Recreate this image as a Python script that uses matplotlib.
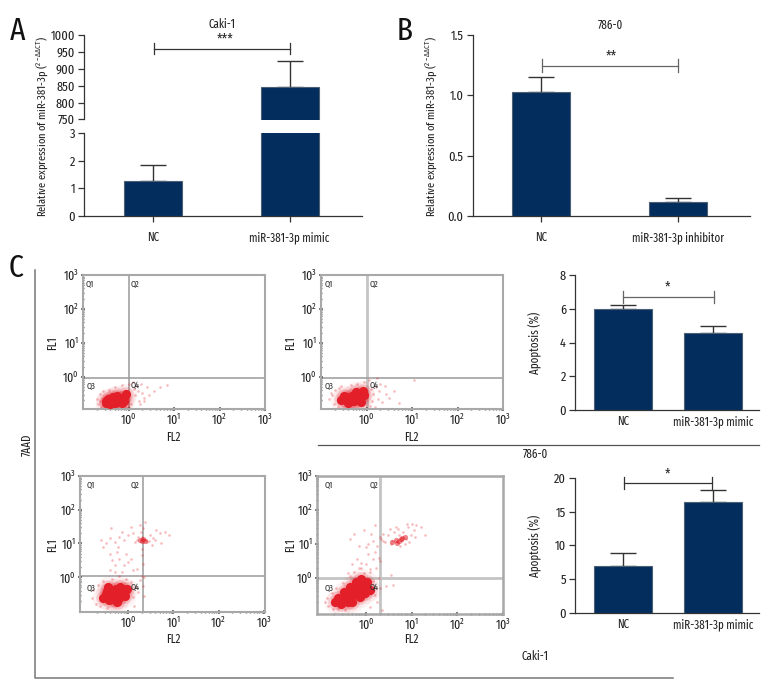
import matplotlib
matplotlib.use("Agg")
import matplotlib.pyplot as plt
import numpy as np

plt.rcParams['font.family'] = ['Fira Sans Extra Condensed', 'PT Sans Narrow', 'Roboto Condensed', 'Liberation Sans', 'DejaVu Sans']
plt.rcParams['mathtext.default'] = 'regular'
plt.rcParams['font.size'] = 9

W, H = 780, 696
NAVY = '#022d5c'
DARK = '#333333'
GRID = '#9a9a9a'
RED = '#e3202a'

# bar data
labels_a = ['NC', 'miR-381-3p mimic']
vals_a = [1.27, 845]
err_a = [0.58, 77]
labels_b = ['NC', 'miR-381-3p inhibitor']
vals_b = [1.03, 0.12]
err_b = [0.125, 0.03]
labels_c = ['NC', 'miR-381-3p mimic']
vals_c1 = [6.0, 4.55]
err_c1 = [0.22, 0.42]
vals_c2 = [7.0, 16.5]
err_c2 = [1.9, 1.7]

# flow cytometry events, as log10 values
core1_x = [-0.5, -0.45, -0.4, -0.35, -0.3, -0.3, -0.2, -0.15, -0.1, -0.1, -0.05, -0.4, -0.25, -0.2, -0.5, -0.35]
core1_y = [-0.76, -0.66, -0.74, -0.6, -0.7, -0.78, -0.64, -0.76, -0.6, -0.7, -0.52, -0.8, -0.58, -0.7, -0.7, -0.66]
halo1_x = [-0.7, -0.68, -0.62, -0.6, -0.55, -0.5, -0.42, -0.3, -0.15, 0.0, 0.1, 0.12, 0.15, 0.2, 0.22, 0.3, 0.33, 0.4, 0.45, 0.55, 0.7, 0.85, 0.05, 0.0, 0.25, 0.35, 0.18, 0.28, -0.05, -0.62]
halo1_y = [-0.65, -0.8, -0.5, -0.9, -0.42, -0.92, -0.38, -0.3, -0.24, -0.2, -0.15, -0.35, -0.55, -0.42, -0.7, -0.48, -0.62, -0.3, -0.55, -0.42, -0.3, -0.25, -0.8, -0.88, -0.8, -0.7, -0.28, -0.2, -0.88, -0.72]

core2_x = [-0.55, -0.5, -0.42, -0.4, -0.32, -0.28, -0.22, -0.15, -0.12, -0.08, -0.05, -0.45, -0.35, -0.25, -0.18, -0.3]
core2_y = [-0.68, -0.56, -0.66, -0.78, -0.56, -0.72, -0.46, -0.62, -0.74, -0.42, -0.54, -0.6, -0.7, -0.62, -0.52, -0.64]
halo2_x = [-0.82, -0.78, -0.72, -0.7, -0.62, -0.6, -0.5, -0.35, -0.2, -0.05, 0.05, 0.1, 0.15, 0.2, 0.25, 0.28, 0.35, 0.42, 0.5, 0.6, 0.72, 1.05, 0.08, 0.3, 0.18, -0.75, -0.55, 0.4, 0.12, 0.22]
halo2_y = [-0.65, -0.48, -0.8, -0.38, -0.88, -0.32, -0.92, -0.25, -0.2, -0.15, -0.1, -0.35, -0.5, -0.3, -0.65, -0.42, -0.75, -0.5, -0.62, -0.42, -0.78, -0.1, -0.85, -0.2, -0.9, -0.55, -0.28, -0.28, -0.7, -0.05]

core3_x = [-0.55, -0.5, -0.42, -0.38, -0.3, -0.28, -0.2, -0.18, -0.12, -0.08, -0.03, -0.45, -0.25, -0.35, -0.2, -0.4, -0.3, -0.12, -0.48]
core3_y = [-0.62, -0.5, -0.68, -0.4, -0.55, -0.36, -0.62, -0.28, -0.45, -0.55, -0.36, -0.3, -0.72, -0.48, -0.42, -0.58, -0.66, -0.36, -0.4]
halo3_x = [-0.8, -0.78, -0.72, -0.68, -0.62, -0.55, -0.48, -0.35, -0.2, -0.05, 0.05, 0.1, 0.18, 0.22, 0.25, 0.3, 0.33, 0.35, 0.12, -0.4, -0.3, -0.2, -0.15, -0.35, -0.25, -0.4, -0.1, 0.0, -0.55, -0.3, -0.22, -0.05, 0.1, 0.2, 0.3, 0.05, 0.32, 0.3, 0.34,
           -0.6, -0.5, -0.4, -0.3, -0.2, -0.1, 0.0, 0.1, 0.15, 0.2, 0.28, 0.32, 0.36, 0.42, 0.48, 0.55, 0.62, 0.7, 0.82, 0.9, 0.3, 0.35, 0.4, 0.25, 0.22, 0.45, 0.52, 0.36, 0.3, 0.05, -0.15, -0.38, 0.6, 0.72]
halo3_y = [-0.62, -0.38, -0.78, -0.22, -0.85, -0.12, -0.9, -0.05, 0.05, -0.05, -0.15, -0.6, -0.3, -0.45, -0.08, 0.05, -0.25, -0.55, -0.85, 0.2, 0.35, 0.55, 0.15, 0.5, 0.75, 0.7, 0.35, 0.45, 0.9, 0.15, 0.9, 0.7, 0.2, 0.25, 0.85, 0.55, 0.4, 0.65, 0.02,
           1.1, 1.0, 1.15, 1.05, 1.2, 1.1, 1.25, 1.3, 1.05, 1.1, 1.35, 1.45, 1.1, 1.05, 1.25, 1.15, 1.4, 1.3, 1.35, 1.25, 1.12, 1.14, 1.1, 1.55, 1.2, 1.08, 0.95, 1.65, 1.18, 1.5, 1.35, 1.45, 1.1, 1.0]
peak3_x = [0.26, 0.33, 0.38, 0.3]
peak3_y = [1.1, 1.13, 1.08, 1.06]

core4_x = [-0.68, -0.6, -0.55, -0.48, -0.42, -0.35, -0.3, -0.22, -0.18, -0.1, -0.05, 0.02, -0.3, -0.12, 0.08, -0.5, -0.38, -0.25, -0.15, -0.4, -0.02]
core4_y = [-0.72, -0.58, -0.76, -0.42, -0.62, -0.28, -0.52, -0.12, -0.42, -0.02, -0.3, -0.12, -0.72, -0.55, -0.35, -0.62, -0.45, -0.32, -0.22, -0.7, -0.45]
halo4_x = [-0.9, -0.85, -0.82, -0.75, -0.72, -0.65, -0.6, -0.5, -0.45, -0.35, -0.25, -0.15, 0.0, 0.1, 0.15, 0.2, 0.25, 0.3, 0.35, 0.1, 0.22, 0.3, -0.4, -0.2, -0.1, 0.05, -0.3, 0.0, 0.15, 0.2, 0.25, 0.28, -0.05, 0.1, -0.1, 0.45, 0.55, 0.6, 0.28,
           0.32, 0.38, 0.42, 0.48, 0.52, 0.58, 0.62, 0.68, 0.72, 0.78, 0.82, 0.88, 0.92, 0.98, 1.05, 1.1, 1.2, 0.75, 0.85, 0.95, 0.65, 1.0, 1.08, 0.55, 0.7, 0.9, 1.3, -0.15, -0.25, -0.35, 0.15, -0.05, 0.05, 0.12, 0.2, 0.3, 0.38]
halo4_y = [-0.72, -0.6, -0.82, -0.45, -0.9, -0.3, -0.92, -0.15, -0.95, 0.05, 0.18, 0.28, 0.4, 0.25, -0.1, -0.5, -0.72, -0.3, -0.95, -0.85, 0.3, 0.5, 0.15, 0.55, 0.45, 0.7, 0.4, 0.9, 0.55, 0.75, 0.95, 0.6, 0.15, 0.18, 0.28, -0.25, 0.1, -0.2, 0.0,
           1.15, 1.3, 1.05, 1.25, 1.45, 1.1, 1.35, 1.05, 1.25, 1.1, 1.35, 1.15, 1.5, 1.25, 1.4, 1.55, 1.5, 0.95, 1.0, 1.05, 1.5, 1.6, 1.2, 1.0, 1.45, 1.6, 1.25, 0.95, 1.3, 1.15, 1.1, 1.4, 1.0, 1.3, 1.55, 1.2, 1.1]
peak4_x = [0.58, 0.65, 0.72, 0.78, 0.85, 0.68, 0.76]
peak4_y = [1.05, 1.12, 1.1, 1.17, 1.22, 1.04, 1.14]

LABEL_SIZE = 8.6
YLABEL_SIZE = 8.2
TICK_SIZE = 9.6
STAR_SIZE = 10.5


def px_axes(fig, left, top, right, bottom):
    ax = fig.add_axes([left / W, 1 - bottom / H, (right - left) / W, (bottom - top) / H])
    ax.patch.set_alpha(0)
    return ax


def px_text(fig, x, y, s, **kw):
    kw.setdefault('ha', 'center')
    kw.setdefault('va', 'center')
    kw.setdefault('color', '#222222')
    return fig.text(x / W, 1 - y / H, s, **kw)


def bar_axes(ax, xlim, width, vals, errs):
    ax.bar([0, 1], vals, width=width, color=NAVY, edgecolor='#4d5f73', linewidth=0.8, zorder=3)
    ax.errorbar([0, 1], vals, yerr=[[0, 0], errs], fmt='none', ecolor=DARK,
                elinewidth=1, capsize=9.7, capthick=1, zorder=2)
    ax.set_xlim(*xlim)
    for side in ['top', 'right']:
        ax.spines[side].set_visible(False)
    for side in ['left', 'bottom']:
        ax.spines[side].set_linewidth(0.9)
        ax.spines[side].set_color(DARK)
    ax.tick_params(length=4, width=0.9, color=DARK, labelsize=TICK_SIZE, labelcolor='#222222', pad=2.5)


def bracket(ax, x0, x1, y, half, color=DARK, lw=0.9):
    ax.plot([x0, x1], [y, y], color=color, lw=lw, clip_on=False, zorder=5)
    for x in (x0, x1):
        ax.plot([x, x], [y - half, y + half], color=color, lw=lw, clip_on=False, zorder=5)


def dot_plot(fig, box, gate, xlim, ylim, qpos, core, halo, peak=None, frame=1.5, vgate=(GRID, 1.1), hgate=(GRID, 1.1)):
    ax = px_axes(fig, *box)
    ax.set_xlim(*xlim)
    ax.set_ylim(*ylim)
    ax.scatter(core[0], core[1], s=240, color=RED, alpha=0.05, linewidths=0, zorder=2)
    ax.scatter(core[0], core[1], s=110, color=RED, alpha=0.14, linewidths=0, zorder=2)
    ax.scatter(core[0], core[1], s=44, color=RED, alpha=1, linewidths=0, zorder=3)
    ax.scatter(halo[0], halo[1], s=3.5, color=RED, alpha=0.3, linewidths=0, zorder=2)
    if peak is not None:
        ax.scatter(peak[0], peak[1], s=14, color=RED, alpha=0.55, linewidths=0, zorder=3)
    ax.axvline(gate[0], color=vgate[0], lw=vgate[1], zorder=1)
    ax.axhline(gate[1], color=hgate[0], lw=hgate[1], zorder=1)
    for s in ax.spines.values():
        s.set_color('#a8a8a8')
        s.set_linewidth(frame)
    decades = [0, 1, 2, 3]
    ax.set_xticks(decades)
    ax.set_yticks(decades)
    ax.set_xticklabels(['$10^{%d}$' % d for d in decades])
    ax.set_yticklabels(['$10^{%d}$' % d for d in decades])
    minor = np.log10(np.arange(2, 10))
    mx = [d + m for d in range(-1, 3) for m in minor]
    ax.set_xticks([v for v in mx if xlim[0] < v < xlim[1]], minor=True)
    ax.set_yticks([v for v in mx if ylim[0] < v < ylim[1]], minor=True)
    ax.tick_params(which='major', length=2.5, width=1.1, color='#555555', labelsize=9.2, labelcolor='#222222', pad=1.5, direction='inout')
    ax.tick_params(which='minor', length=2, width=1, color='#666666', direction='inout')
    for (x, y), q in zip(qpos, ['Q1', 'Q2', 'Q3', 'Q4']):
        px_text(fig, x, y, q, fontsize=6.5, color='#333333')
    return ax


fig = plt.figure(figsize=(W / 100, H / 100), dpi=100)
ylab = r'Relative expression of miR-381-3p ($^{2-\Delta\Delta CT}$)'

# panel A, broken axis
a_hi = px_axes(fig, 84, 35, 362, 119.5)
a_lo = px_axes(fig, 84, 133, 362, 216)
xlim_ab = (-0.505, 1.53)
for ax in (a_hi, a_lo):
    bar_axes(ax, xlim_ab, 0.425, vals_a, err_a)
a_hi.set_ylim(750, 1000)
a_hi.set_yticks([750, 800, 850, 900, 950, 1000])
a_hi.spines['bottom'].set_visible(False)
a_hi.set_xticks([])
a_lo.set_ylim(0, 3)
a_lo.set_yticks([0, 1, 2, 3])
a_lo.set_xticks([0, 1])
a_lo.set_xticklabels(labels_a)
a_lo.tick_params(axis='x', pad=7, labelsize=LABEL_SIZE)
a_lo.set_ylabel(ylab, fontsize=YLABEL_SIZE, color='#222222')
a_lo.yaxis.set_label_coords(50 / W, 1 - 126 / H, transform=fig.transFigure)
bracket(a_hi, 0.01, 1.005, 960, 17)
px_text(fig, 225, 39, '***', fontsize=STAR_SIZE)
px_text(fig, 222, 24, 'Caki-1', fontsize=LABEL_SIZE)
px_text(fig, 18, 31, 'A', fontsize=23, color='#111111')

# panel B
b_ax = px_axes(fig, 472.7, 35, 750, 216)
bar_axes(b_ax, (-0.5, 1.525), 0.423, vals_b, err_b)
b_ax.set_ylim(0, 1.5)
b_ax.set_yticks([0, 0.5, 1.0, 1.5])
b_ax.set_yticklabels(['0.0', '0.5', '1.0', '1.5'])
b_ax.set_xticks([0, 1])
b_ax.set_xticklabels(labels_b)
b_ax.tick_params(axis='x', pad=7, labelsize=LABEL_SIZE)
b_ax.set_ylabel(ylab, fontsize=YLABEL_SIZE, color='#222222')
b_ax.yaxis.set_label_coords(439 / W, 1 - 126 / H, transform=fig.transFigure)
bracket(b_ax, 0.005, 1.0, 1.245, 0.052, color='#666666')
px_text(fig, 611, 56, '**', fontsize=STAR_SIZE)
px_text(fig, 610, 25, '786-0', fontsize=LABEL_SIZE)
px_text(fig, 405, 31, 'B', fontsize=23, color='#111111')

# panel C, dot plots
light = ('#c4c4c4', 2.0)
dot_plot(fig, (83, 275, 265, 409), (0.0, -0.05), (-1, 3), (-0.95, 3),
         [(90, 283), (135, 283), (91, 385), (135, 385)], (core1_x, core1_y), (halo1_x, halo1_y))
dot_plot(fig, (321, 275, 503, 409), (0.0, -0.03), (-1, 3), (-0.95, 3),
         [(329, 283), (374, 283), (329, 385), (374, 385)], (core2_x, core2_y), (halo2_x, halo2_y),
         vgate=light)
dot_plot(fig, (80, 476, 265, 612), (0.33, 0.05), (-1.07, 3.03), (-1.03, 3),
         [(91, 484), (135, 484), (91, 587), (135, 587)], (core3_x, core3_y), (halo3_x, halo3_y),
         peak=(peak3_x, peak3_y))
dot_plot(fig, (317, 476, 503, 614), (0.3, 0.0), (-1.07, 3), (-1.06, 3),
         [(329, 484), (374, 484), (329, 587), (374, 587)], (core4_x, core4_y), (halo4_x, halo4_y),
         peak=(peak4_x, peak4_y), frame=1.8, vgate=light, hgate=light)

for x, y in [(52, 343), (290, 343), (52, 545), (290, 545)]:
    px_text(fig, x, y, 'FL1', fontsize=LABEL_SIZE, rotation=90)
for x, y in [(173, 437), (411, 437), (173, 639), (411, 639)]:
    px_text(fig, x, y, 'FL2', fontsize=LABEL_SIZE)

# panel C, apoptosis bars
xlim_c = (-0.533, 1.51)
c1 = px_axes(fig, 575, 275, 759, 410)
bar_axes(c1, xlim_c, 0.644, vals_c1, err_c1)
c1.set_ylim(0, 8)
c1.set_yticks([0, 2, 4, 6, 8])
c1.set_xticks([0, 1])
c1.set_xticklabels(labels_c)
c1.tick_params(axis='x', length=0, pad=4, labelsize=LABEL_SIZE)
c1.set_ylabel('Apoptosis (%)', fontsize=LABEL_SIZE, color='#222222')
c1.yaxis.set_label_coords(541.7 / W, 1 - 343 / H, transform=fig.transFigure)
bracket(c1, 0.0, 1.01, 6.7, 0.37, color='#666666')
px_text(fig, 667, 287, '*', fontsize=STAR_SIZE)

c2 = px_axes(fig, 575, 478, 759, 612.7)
bar_axes(c2, xlim_c, 0.644, vals_c2, err_c2)
c2.set_ylim(0, 20)
c2.set_yticks([0, 5, 10, 15, 20])
c2.set_xticks([0, 1])
c2.set_xticklabels(labels_c)
c2.tick_params(axis='x', length=0, pad=4, labelsize=LABEL_SIZE)
c2.set_ylabel('Apoptosis (%)', fontsize=LABEL_SIZE, color='#222222')
c2.yaxis.set_label_coords(541.7 / W, 1 - 546 / H, transform=fig.transFigure)
bracket(c2, 0.01, 0.99, 19.3, 0.9)
px_text(fig, 667, 474, '*', fontsize=STAR_SIZE)

# frame lines and group captions
overlay = fig.add_axes([0, 0, 1, 1], zorder=-1)
overlay.set_xlim(0, W)
overlay.set_ylim(H, 0)
overlay.axis('off')
overlay.plot([34.7, 34.7, 673], [270, 678, 678], color='#777777', lw=1.1)
overlay.plot([318, 759], [445, 445], color='#555555', lw=0.9)
px_text(fig, 535.7, 454, '786-0', fontsize=LABEL_SIZE)
px_text(fig, 535, 656, 'Caki-1', fontsize=LABEL_SIZE)
px_text(fig, 27, 445, '7AAD', fontsize=LABEL_SIZE, rotation=90)
px_text(fig, 16, 268, 'C', fontsize=23, color='#111111')

fig.savefig('out.png', dpi=100)
